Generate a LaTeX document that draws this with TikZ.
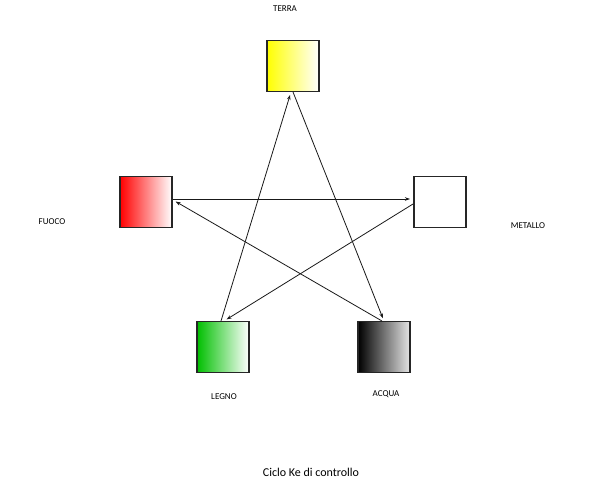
\documentclass[tikz,border=0pt]{standalone}
\usepackage{fontspec}
\setmainfont{Carlito}
\usetikzlibrary{arrows.meta}
\begin{document}
\begin{tikzpicture}[x=1pt,y=-1pt,
  elem/.style={draw=black!85,line width=1.6pt,minimum width=52pt,minimum height=51pt,inner sep=0pt},
  lbl/.style={font=\fontsize{9}{10}\selectfont,inner sep=0pt},
  ctl/.style={draw=black!90,line width=0.8pt,-{Stealth[length=5pt,width=3.5pt]},shorten >=3pt}]
\useasboundingbox[fill=white] (0,0) rectangle (608,485);
\node[elem,left color=yellow,right color=white] (terra) at (293,66) {};
\node[elem,left color=red,right color=white] (fuoco) at (146,202) {};
\node[elem,fill=white] (metallo) at (440,202) {};
\node[elem,left color=green!75!black,right color=white] (legno) at (223,347) {};
\node[elem,left color=black,right color=black!10] (acqua) at (384,347) {};
\node[lbl] (tterra) at (285,9) {TERRA};
\node[lbl] (tfuoco) at (52,222) {FUOCO};
\node[lbl] (tmetallo) at (528,226) {METALLO};
\node[lbl] (tlegno) at (224,397) {LEGNO};
\node[lbl] (tacqua) at (386,394) {ACQUA};
\node[font=\fontsize{12}{14}\selectfont,inner sep=0pt] (caption) at (311,472) {Ciclo Ke di controllo};
\coordinate (fR) at (173,199);
\coordinate (mL) at (413,199);
\coordinate (mL2) at (413,204);
\coordinate (lT) at (224,321);
\coordinate (lT2) at (221,321);
\coordinate (tB) at (291,92);
\coordinate (tB2) at (293,92);
\coordinate (aT) at (384,321);
\coordinate (aT2) at (382,321);
\coordinate (fR2) at (173,200);
\draw[ctl] (fR) -- (mL);
\draw[ctl] (mL2) -- (lT);
\draw[ctl] (lT2) -- (tB);
\draw[ctl] (tB2) -- (aT);
\draw[ctl] (aT2) -- (fR2);
\end{tikzpicture}
\end{document}
